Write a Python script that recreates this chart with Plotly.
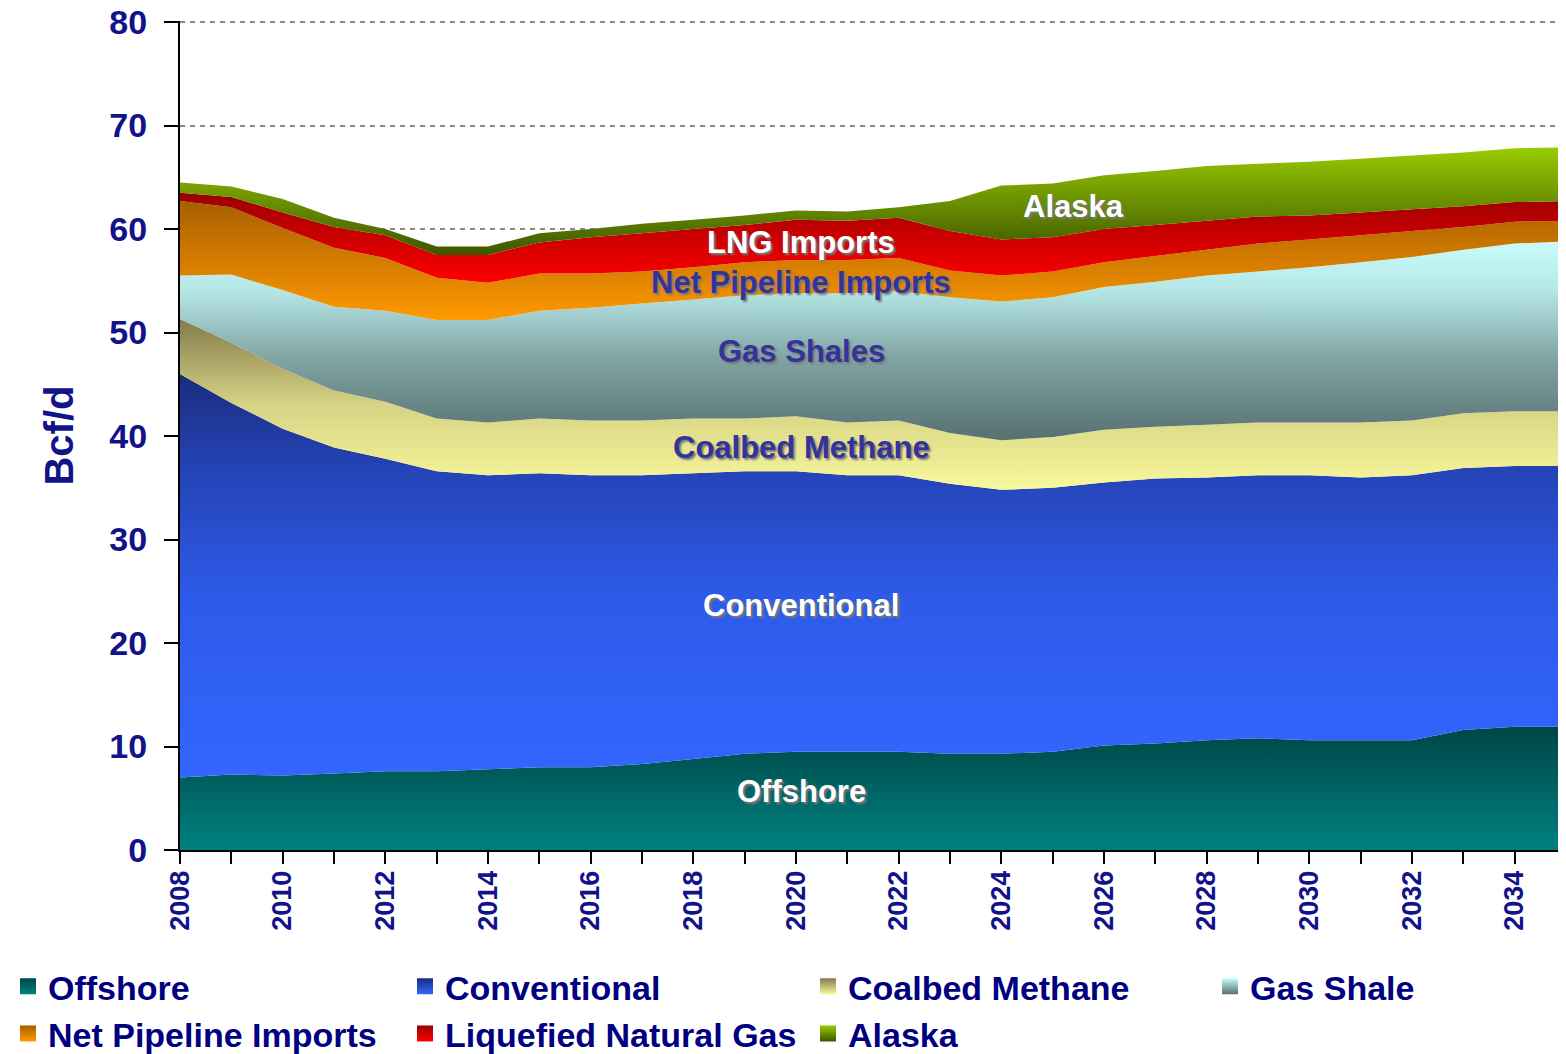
import plotly.graph_objects as go

years = list(range(2008, 2036))

# Bcf/d by source (stacked bottom to top)
offshore = [7.0, 7.3, 7.2, 7.4, 7.6, 7.6, 7.8, 8.0, 8.0, 8.3, 8.8, 9.3, 9.5, 9.5,
            9.5, 9.3, 9.3, 9.5, 10.1, 10.3, 10.6, 10.8, 10.6, 10.6, 10.6, 11.6, 11.9, 11.9]
conventional = [39.0, 35.9, 33.5, 31.5, 30.2, 29.0, 28.4, 28.4, 28.2, 27.9, 27.6, 27.3, 27.1, 26.7,
                26.7, 26.1, 25.5, 25.5, 25.4, 25.6, 25.4, 25.4, 25.6, 25.4, 25.6, 25.3, 25.2, 25.2]
coalbed = [5.3, 5.8, 5.8, 5.5, 5.5, 5.1, 5.1, 5.3, 5.3, 5.3, 5.3, 5.1, 5.3, 5.1,
           5.3, 4.9, 4.8, 4.9, 5.1, 5.0, 5.1, 5.1, 5.1, 5.3, 5.3, 5.3, 5.3, 5.3]
gas_shale = [4.2, 6.6, 7.6, 8.1, 8.8, 9.5, 9.9, 10.4, 10.9, 11.3, 11.5, 11.9, 11.9, 12.5,
             12.5, 13.1, 13.4, 13.5, 13.8, 14.0, 14.4, 14.6, 15.0, 15.5, 15.8, 15.8, 16.2, 16.4]
pipeline = [7.2, 6.5, 6.0, 5.7, 5.1, 4.1, 3.6, 3.6, 3.3, 3.1, 3.1, 3.2, 3.2, 3.2,
            3.2, 2.6, 2.5, 2.5, 2.4, 2.5, 2.5, 2.7, 2.7, 2.6, 2.5, 2.2, 2.1, 2.0]
lng = [0.8, 1.0, 1.5, 2.0, 2.2, 2.2, 2.7, 3.0, 3.5, 3.7, 3.7, 3.6, 3.9, 3.8,
       3.9, 3.8, 3.5, 3.3, 3.2, 3.0, 2.8, 2.6, 2.3, 2.2, 2.1, 2.0, 1.9, 1.9]
alaska = [1.0, 1.0, 1.3, 0.9, 0.6, 0.8, 0.8, 0.9, 0.8, 0.9, 0.9, 0.9, 0.9, 0.9,
          1.0, 2.9, 5.2, 5.2, 5.2, 5.2, 5.3, 5.1, 5.2, 5.2, 5.2, 5.2, 5.2, 5.2]

names = ["Offshore", "Conventional", "Coalbed Methane", "Gas Shale",
         "Net Pipeline Imports", "Liquefied Natural Gas", "Alaska"]
values = [offshore, conventional, coalbed, gas_shale, pipeline, lng, alaska]

# vertical gradients, bottom -> top
scales = [
    [[0, "#008080"], [1, "#004646"]],
    [[0, "#3366FF"], [0.45, "#2D5AE8"], [0.75, "#2545B8"], [1, "#1A2C7E"]],
    [[0, "#F8F89C"], [0.5, "#D6D384"], [1, "#847B4C"]],
    [[0, "#577070"], [0.4, "#80A2A2"], [0.75, "#B4E6E4"], [1, "#C8FCFC"]],
    [[0, "#FF9900"], [1, "#A85F00"]],
    [[0, "#FF0000"], [1, "#990000"]],
    [[0, "#3D5500"], [1, "#99CC00"]],
]
legend_of = ["legend", "legend2", "legend3", "legend4", "legend", "legend2", "legend3"]

NAVY = "#12128A"
FONT = "Liberation Sans, Arial, sans-serif"
W, H = 1558, 1046   # page body has an 8px margin

fig = go.Figure()

base = [0.0] * len(years)
for name, vals, cs, lg in zip(names, values, scales, legend_of):
    top = [b + v for b, v in zip(base, vals)]
    fig.add_trace(go.Scatter(
        x=years, y=vals, name=name, mode="none", stackgroup="one",
        fillgradient=dict(type="vertical", colorscale=cs,
                          start=min(base), stop=max(top)),
        showlegend=False, hoverinfo="x+y+name",
    ))
    # legend swatch
    fig.add_trace(go.Scatter(
        x=[None], y=[None], name=name, mode="markers", legend=lg,
        legendgroup=name,
        marker=dict(symbol="square", size=16, color=cs[-1][1],
                    gradient=dict(type="vertical", color=cs[0][1]),
                    line=dict(width=0)),
    ))
    base = top

labels = [
    ("Offshore", 2020.1, 5.7, "white"),
    ("Conventional", 2020.1, 23.6, "white"),
    ("Coalbed Methane", 2020.1, 38.9, "#333399"),
    ("Gas Shales", 2020.1, 48.2, "#333399"),
    ("Net Pipeline Imports", 2020.1, 54.8, "#333399"),
    ("LNG Imports", 2020.1, 58.7, "white"),
    ("Alaska", 2025.4, 62.2, "white"),
]
for txt, lx, ly, col in labels:
    fig.add_annotation(x=lx, y=ly, text=txt, showarrow=False,
                       font=dict(family=FONT, size=31, color=col, weight="bold",
                                 shadow="2px 2px 2px #7a7a7a"))

# y axis title
fig.add_annotation(x=-0.088, y=0.5, xref="paper", yref="paper", text="Bcf/d",
                   textangle=-90, showarrow=False, xanchor="center", yanchor="middle",
                   font=dict(family=FONT, size=40, color=NAVY, weight="bold"))

leg_common = dict(orientation="v", xref="container", yref="container",
                  yanchor="top", xanchor="left", y=0.0921,
                  bgcolor="rgba(0,0,0,0)", tracegroupgap=0, itemsizing="trace",
                  font=dict(family=FONT, size=34, color="#000080", weight="bold"))
fig.update_layout(
    width=W, height=H,
    margin=dict(l=172, r=0, t=13, b=204, autoexpand=False),
    plot_bgcolor="white", paper_bgcolor="white",
    legend=dict(x=0.0, **leg_common),
    legend2=dict(x=397 / W, **leg_common),
    legend3=dict(x=800 / W, **leg_common),
    legend4=dict(x=1202 / W, **leg_common),
    xaxis=dict(
        range=[2008, 2035], tickvals=list(range(2008, 2035, 2)),
        tickangle=-90, ticks="outside", ticklen=12, tickwidth=2, tickcolor="black",
        minor=dict(dtick=1, tick0=2008, ticks="outside", ticklen=12, tickwidth=2,
                   tickcolor="black", showgrid=False),
        showline=True, linecolor="black", linewidth=2, showgrid=False, zeroline=False,
        ticklabelstandoff=-4,
        tickfont=dict(family=FONT, size=27, color=NAVY, weight="bold"),
    ),
    yaxis=dict(
        range=[0, 80.1], dtick=10, ticks="outside", ticklen=14, tickwidth=2,
        tickcolor="black", showline=True, linecolor="black", linewidth=2,
        showgrid=True, gridcolor="#8a8a8a", gridwidth=1.5, griddash="5px,5px",
        zeroline=False, ticklabelstandoff=10, ticklabeloverflow="allow",
        tickfont=dict(family=FONT, size=34, color=NAVY, weight="bold"),
    ),
)

fig.write_html("out.html")
